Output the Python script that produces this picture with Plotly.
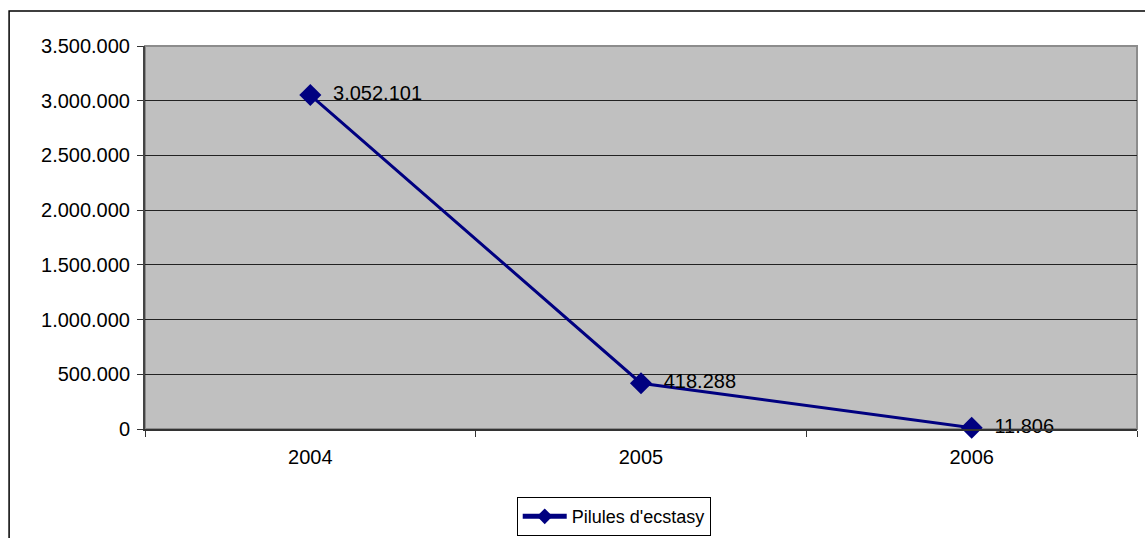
import plotly.graph_objects as go

years = ["2004", "2005", "2006"]
pills = [3052101, 418288, 11806]
y_ticks = [0, 500000, 1000000, 1500000, 2000000, 2500000, 3000000, 3500000]

NAVY = "#000080"
FONT = "Liberation Sans, Arial, sans-serif"

fig = go.Figure()
fig.add_trace(go.Scatter(
    x=years, y=pills,
    mode="lines+markers+text",
    name="Pilules d'ecstasy",
    line=dict(color=NAVY, width=3),
    marker=dict(symbol="diamond", size=17, color=NAVY),
    texttemplate="  %{y:,d}",
    textposition="middle right",
    textfont=dict(size=20, color="black", family=FONT),
    cliponaxis=False,
))

# outer chart frame (left and top edges visible)
fig.add_shape(type="rect", xref="paper", yref="paper",
              x0=-0.137, x1=1.02, y0=-0.6, y1=1.0914,
              line=dict(color="black", width=1.5), layer="below")
# plot-area border
fig.add_shape(type="rect", xref="paper", yref="paper",
              x0=0, x1=1, y0=0, y1=1,
              line=dict(color="#8c8c8c", width=2), layer="below")

fig.update_layout(
    width=1145, height=538,
    margin=dict(l=145, r=8, t=46, b=109, autoexpand=False),
    paper_bgcolor="white",
    plot_bgcolor="#C0C0C0",
    separators=",.",
    font=dict(family=FONT, size=20, color="black"),
    showlegend=True,
    legend=dict(
        orientation="h", x=0.4725, xanchor="center", y=-0.178, yanchor="top",
        bordercolor="black", borderwidth=1, bgcolor="white",
        font=dict(size=18, family=FONT), itemsizing="constant", itemwidth=44,
    ),
    xaxis=dict(
        type="category", range=[-0.5, 2.5],
        tickson="boundaries", ticks="outside", ticklen=6, tickcolor="#333",
        showgrid=False, showline=True, linecolor="#333", linewidth=1.5,
        tickfont=dict(size=20), ticklabelstandoff=9, fixedrange=True,
    ),
    yaxis=dict(
        range=[0, 3500000], tickvals=y_ticks, tickformat=",d",
        ticks="outside", ticklen=6, tickcolor="#333",
        showgrid=True, gridcolor="#222", gridwidth=1,
        showline=True, linecolor="#444", linewidth=2,
        zeroline=False, tickfont=dict(size=20), ticklabelstandoff=3,
        fixedrange=True,
    ),
)

fig.write_html("out.html")
